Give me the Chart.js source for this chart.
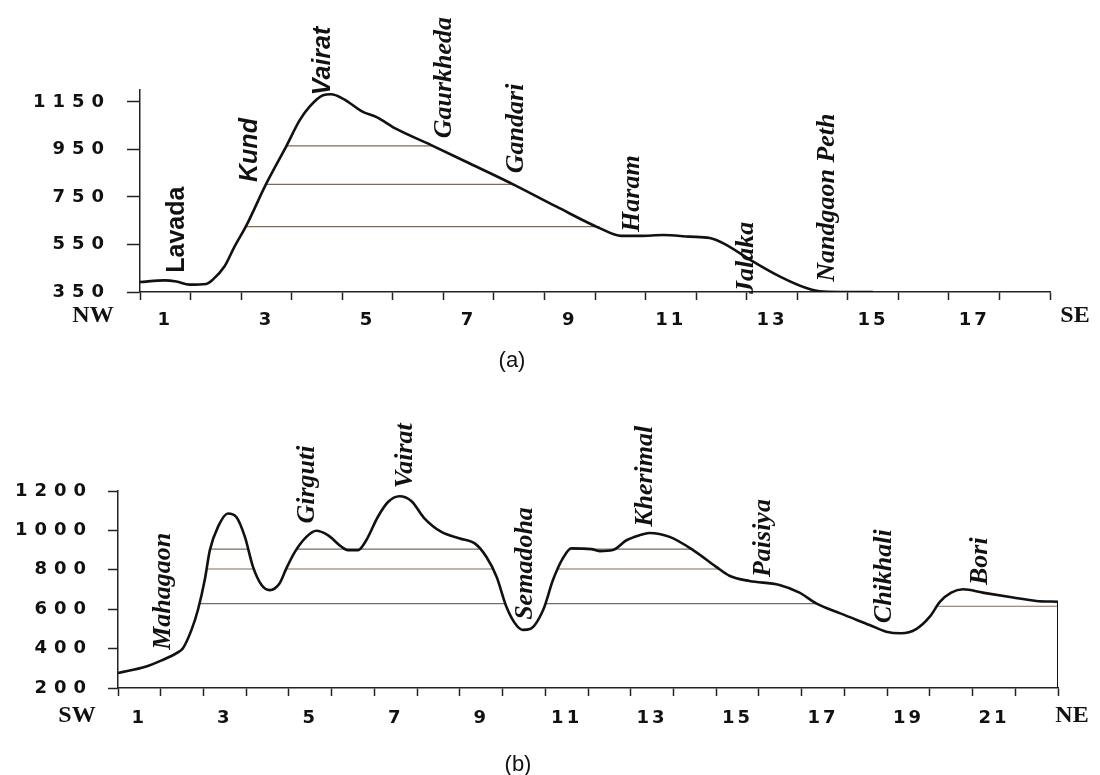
<!DOCTYPE html>
<html>
<head>
<meta charset="utf-8">
<script src="https://cdn.jsdelivr.net/npm/chart.js@4.4.1/dist/chart.umd.min.js"></script>
<style>
  html, body { margin: 0; padding: 0; background: #fff; }
  #page { position: relative; width: 1100px; height: 775px; overflow: hidden; }
  .box { position: absolute; left: 0; width: 1100px; }
  .cap { position: absolute; font: 22px "Liberation Sans", Arial, sans-serif; color: #111; transform: translate(-50%, -50%); }
</style>
</head>
<body>
<div id="page">
  <div class="box" style="top:0;height:350px"><canvas id="chartA"></canvas></div>
  <div class="box" style="top:380px;height:395px"><canvas id="chartB"></canvas></div>
  <div class="cap" style="left:512px;top:360px">(a)</div>
  <div class="cap" style="left:518px;top:764px">(b)</div>
</div>
<script>
// ---- profil (a) : NW -> SE ----
const distA = [0.5, 0.99, 1.22, 1.48, 1.81, 1.94, 2.17, 2.37, 2.6, 3.0, 3.39, 3.66, 3.85, 4.12, 4.28, 4.51, 4.91, 5.17, 5.57, 6.26, 6.95, 7.91, 8.74, 9.59, 10.02, 10.39, 10.85, 11.37, 11.77, 12.03, 12.63, 13.16, 13.68, 14.01, 14.5, 15.0];
const elevA = [392, 399, 394, 381, 384, 402, 457, 541, 628, 807, 962, 1073, 1129, 1178, 1182, 1164, 1108, 1087, 1036, 968, 898, 800, 709, 619, 586, 586, 590, 583, 577, 556, 478, 415, 367, 352, 350, 350];
const yTicksA = [350, 550, 750, 950, 1150];
const levelYA = [965, 803, 625];
const levelFromA = [3.39, 3.0, 2.6];
const levelToA = [6.29, 7.91, 9.59];
const placesA = ['Lavada', 'Kund', 'Vairat', 'Gaurkheda', 'Gandari', 'Haram', 'Jalaka', 'Nandgaon Peth'];
const placeXA = [1.24, 2.67, 4.12, 6.52, 7.95, 10.23, 12.5, 14.09];
const placeYA = [431, 813, 1178, 997, 850, 603, 342, 393];

// ---- profil (b) : SW -> NE ----
const distB = [0.5, 1.16, 1.52, 1.87, 2.02, 2.22, 2.37, 2.53, 2.65, 2.84, 3.07, 3.27, 3.47, 3.66, 3.86, 4.05, 4.28, 4.44, 4.64, 4.91, 5.14, 5.41, 5.73, 5.88, 6.12, 6.31, 6.58, 6.82, 7.09, 7.37, 7.66, 8.07, 8.5, 8.85, 9.12, 9.36, 9.59, 9.82, 9.98, 10.14, 10.45, 10.68, 10.91, 11.11, 11.58, 11.77, 12.08, 12.4, 12.71, 12.94, 13.41, 13.96, 14.5, 14.81, 15.28, 15.98, 16.45, 16.84, 17.39, 18.09, 18.48, 18.83, 19.18, 19.5, 19.74, 20.0, 20.28, 20.74, 21.45, 21.99, 22.5];
const elevB = [276, 309, 340, 377, 402, 495, 596, 748, 900, 1018, 1086, 1068, 967, 815, 723, 697, 731, 807, 891, 967, 998, 976, 917, 900, 900, 950, 1068, 1144, 1173, 1148, 1064, 992, 959, 934, 866, 765, 613, 520, 495, 499, 596, 748, 858, 909, 905, 895, 900, 950, 976, 987, 967, 900, 815, 770, 743, 723, 684, 630, 580, 520, 486, 478, 499, 562, 638, 684, 701, 684, 659, 642, 638];
const yTicksB = [200, 400, 600, 800, 1000, 1200];
const levelYB = [905, 905, 905, 804, 804, 804, 628, 628, 615];
const levelFromB = [2.66, 4.69, 11.11, 2.57, 4.44, 10.8, 2.4, 10.5, 19.7];
const levelToB = [3.55, 8.95, 13.94, 3.68, 9.27, 14.57, 9.57, 16.85, 22.5];
const placesB = ['Mahagaon', 'Girguti', 'Vairat', 'Semadoha', 'Kherimal', 'Paisiya', 'Chikhali', 'Bori'];
const placeXB = [1.55, 4.93, 7.23, 10.04, 12.83, 15.61, 18.44, 20.69];
const placeYB = [394, 1035, 1214, 546, 1018, 763, 529, 723];

const SERIF_BI = 'italic bold 26px "Liberation Serif", "Times New Roman", serif';
const SANS_B = 'bold 25px "Liberation Sans", Arial, sans-serif';
const SANS_BI = 'italic bold 25px "Liberation Sans", Arial, sans-serif';
const TICK_FONT = { family: 'DejaVu Sans', weight: 'bold', size: 18 };

// ticks tous les 0.5 : les traits sur les demi-valeurs, les libellés sur les impairs
function halfTicks(from, to) {
    const t = [];
    for (let v = from; v <= to + 1e-9; v += 0.5) t.push({ value: v });
    return t;
}

function oddLabel(v) {
    return (v % 1 === 0 && v % 2 === 1) ? String(v) : '';
}

// espacement des lettres pour les graduations (le scan a des chiffres très espacés)
function spacingPlugin(lsX, lsY) {
    return {
        id: 'spacing',
        beforeDraw(chart) {
            [['x', lsX], ['y', lsY]].forEach(([id, ls]) => {
                const s = chart.scales[id];
                if (!s || s._spaced) return;
                const orig = s.drawLabels;
                s.drawLabels = function (area) {
                    const c = this.ctx;
                    c.save();
                    c.letterSpacing = ls;
                    orig.call(this, area);
                    c.restore();
                };
                s._spaced = true;
            });
        }
    };
}

// noms de lieux verticaux + orientation aux extrémités de l'axe
function placesPlugin(names, xs, ys, fonts, ends, endPos) {
    return {
        id: 'places',
        afterDatasetsDraw(chart) {
            const { ctx, scales: { x, y } } = chart;
            ctx.save();
            ctx.fillStyle = '#111';
            names.forEach((n, i) => {
                ctx.save();
                ctx.translate(x.getPixelForValue(xs[i]), y.getPixelForValue(ys[i]));
                ctx.rotate(-Math.PI / 2);
                ctx.font = fonts[i];
                ctx.textAlign = 'left';
                ctx.textBaseline = 'middle';
                ctx.fillText(n, 0, 0);
                ctx.restore();
            });
            ctx.font = 'bold 24px "Liberation Serif", "Times New Roman", serif';
            ctx.textAlign = 'center';
            ctx.textBaseline = 'middle';
            ctx.fillText(ends[0], x.left - endPos[0], y.bottom + endPos[2]);
            ctx.fillText(ends[1], x.right + endPos[1], y.bottom + endPos[2]);
            ctx.restore();
        }
    };
}

function levelSets(ys, from, to) {
    return ys.map((v, i) => ({
        data: [{ x: from[i], y: v }, { x: to[i], y: v }],
        borderColor: '#7d6b5a',
        borderWidth: 1.2,
        pointRadius: 0,
        tension: 0
    }));
}

function createProfile(canvasId, p) {
    const profile = p.dist.map((d, i) => ({ x: d, y: p.elev[i] }));
    const datasets = [{
        data: profile,
        borderColor: '#111',
        borderWidth: 2.6,
        pointRadius: 0,
        cubicInterpolationMode: 'monotone'
    }];
    if (p.closeEnd) {
        const last = profile[profile.length - 1];
        datasets.push({
            data: [last, { x: last.x, y: p.yMin }],
            borderColor: '#111',
            borderWidth: 2,
            pointRadius: 0,
            tension: 0
        });
    }
    datasets.push(...levelSets(p.levelY, p.levelFrom, p.levelTo));

    new Chart(document.getElementById(canvasId), {
        type: 'line',
        data: { datasets: datasets },
        options: {
            responsive: true,
            maintainAspectRatio: false,
            animation: false,
            events: [],
            layout: { padding: { top: p.padTop, right: p.padRight, left: 0, bottom: 0 } },
            plugins: { legend: { display: false }, tooltip: { enabled: false } },
            scales: {
                x: {
                    type: 'linear',
                    min: 0.5,
                    max: p.xMax,
                    afterBuildTicks: s => { s.ticks = halfTicks(0.5, p.xMax); },
                    afterFit: s => { s.height = p.xHeight; },
                    grid: {
                        drawOnChartArea: false,
                        tickLength: 8,
                        tickWidth: 1.5,
                        tickColor: c => (c.tick && c.tick.value % 1 !== 0) ? '#222' : 'rgba(0,0,0,0)'
                    },
                    border: { color: '#222', width: 1.5 },
                    ticks: {
                        autoSkip: false,
                        maxRotation: 0,
                        padding: p.xPad,
                        color: '#111',
                        font: TICK_FONT,
                        callback: v => oddLabel(v)
                    }
                },
                y: {
                    min: p.yMin,
                    max: p.yMax,
                    afterBuildTicks: s => { s.ticks = p.yTicks.map(v => ({ value: v })); },
                    afterFit: s => { s.width = p.yWidth; },
                    grid: { drawOnChartArea: false, tickLength: p.yTickLen, tickWidth: 1.5, color: '#222' },
                    border: { color: '#222', width: 1.5 },
                    ticks: { padding: p.yPad, color: '#111', font: TICK_FONT, callback: v => String(v) }
                }
            }
        },
        plugins: [
            spacingPlugin('3px', '7px'),
            placesPlugin(p.places, p.placeX, p.placeY, p.fonts, p.ends, p.endPos)
        ]
    });
}

document.addEventListener('DOMContentLoaded', () => {
    createProfile('chartA', {
        dist: distA, elev: elevA,
        levelY: levelYA, levelFrom: levelFromA, levelTo: levelToA,
        yMin: 350, yMax: 1200, yTicks: yTicksA, xMax: 18.5,
        padTop: 90, padRight: 50, xHeight: 58, yWidth: 140,
        xPad: 10, yPad: 16, yTickLen: 13,
        places: placesA, placeX: placeXA, placeY: placeYA,
        fonts: [SANS_B, SANS_BI, SANS_BI, SERIF_BI, SERIF_BI, SERIF_BI, SERIF_BI, SERIF_BI],
        ends: ['NW', 'SE'], endPos: [47, 25, 24],
        closeEnd: false
    });
    createProfile('chartB', {
        dist: distB, elev: elevB,
        levelY: levelYB, levelFrom: levelFromB, levelTo: levelToB,
        yMin: 200, yMax: 1200, yTicks: yTicksB, xMax: 22.5,
        padTop: 111, padRight: 42, xHeight: 87, yWidth: 118,
        xPad: 12, yPad: 15, yTickLen: 10,
        places: placesB, placeX: placeXB, placeY: placeYB,
        fonts: placesB.map(() => SERIF_BI),
        ends: ['SW', 'NE'], endPos: [41, 14, 28],
        closeEnd: true
    });
});
</script>
</body>
</html>
